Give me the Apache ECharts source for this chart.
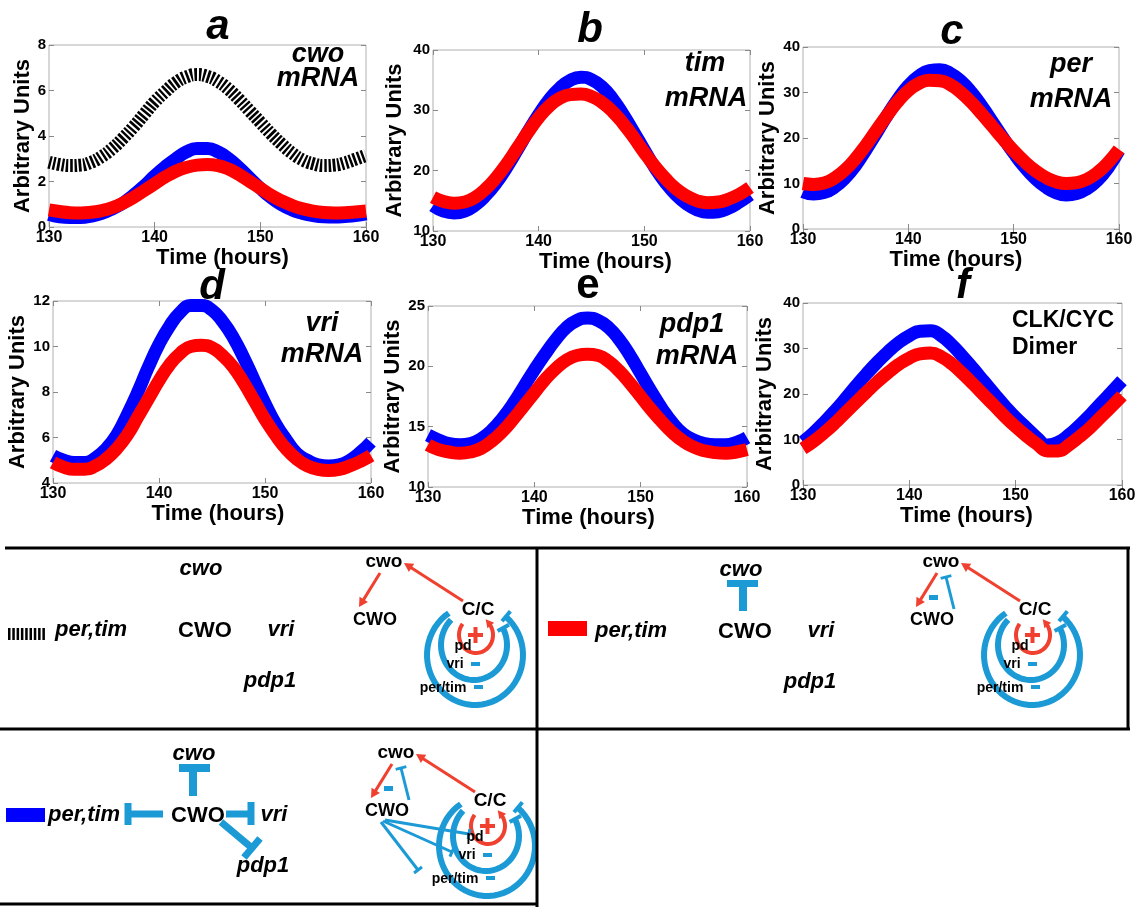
<!DOCTYPE html>
<html>
<head>
<meta charset="utf-8">
<script src="https://cdn.jsdelivr.net/npm/echarts@6/dist/echarts.min.js"></script>
<style>
  html, body { margin: 0; padding: 0; background: #fff; }
  #chart { width: 1144px; height: 907px; }
</style>
</head>
<body>
<div id="chart"></div>
<script>
// time axis (hours)
const hours = [130, 131, 132, 133, 134, 135, 136, 137, 138, 139, 140, 141, 142, 143, 144, 145,
  146, 147, 148, 149, 150, 151, 152, 153, 154, 155, 156, 157, 158, 159, 160]

// a: cwo mRNA
const cwoDashed = [2.85, 2.75, 2.7, 2.72, 2.85, 3.1, 3.45, 3.9, 4.4, 4.95, 5.5, 5.95, 6.35, 6.6, 6.7, 6.62,
  6.4, 6.05, 5.6, 5.1, 4.6, 4.1, 3.65, 3.25, 2.95, 2.78, 2.7, 2.72, 2.82, 2.98, 3.15]
const cwoBlue = [0.55, 0.45, 0.42, 0.42, 0.48, 0.6, 0.8, 1.05, 1.4, 1.8, 2.25, 2.65, 3.0, 3.3, 3.45, 3.45,
  3.3, 3.0, 2.6, 2.15, 1.7, 1.3, 0.98, 0.75, 0.6, 0.5, 0.45, 0.44, 0.46, 0.5, 0.58]
const cwoRed = [0.75, 0.68, 0.63, 0.62, 0.65, 0.72, 0.85, 1.05, 1.3, 1.6, 1.9, 2.2, 2.45, 2.62, 2.72, 2.75,
  2.7, 2.55, 2.3, 2.0, 1.7, 1.4, 1.15, 0.95, 0.8, 0.7, 0.64, 0.62, 0.63, 0.66, 0.7]

// b: tim mRNA
const timBlue = [14.2, 13.3, 13.0, 13.3, 14.3, 15.9, 18.0, 20.6, 23.5, 26.5, 29.3, 31.8, 33.7, 35.0, 35.5, 35.1,
  33.9, 31.9, 29.3, 26.4, 23.4, 20.5, 18.0, 16.0, 14.5, 13.5, 13.1, 13.2, 13.8, 14.8, 16.0]
const timRed = [15.6, 14.9, 14.6, 14.8, 15.6, 17.0, 18.9, 21.2, 23.8, 26.4, 28.8, 30.7, 32.0, 32.6, 32.7, 32.3,
  31.3, 29.8, 27.8, 25.5, 23.0, 20.7, 18.7, 17.0, 15.8, 15.0, 14.7, 14.8, 15.3, 16.1, 17.2]

// c: per mRNA
const perBlue = [8.2, 7.7, 8.0, 9.2, 11.2, 14.0, 17.5, 21.2, 25.0, 28.5, 31.5, 33.6, 34.8, 35.0, 34.2, 32.5,
  30.0, 26.9, 23.5, 20.0, 16.7, 13.7, 11.2, 9.3, 8.0, 7.5, 7.8, 8.9, 10.8, 13.6, 17.3]
const perRed = [10.0, 9.8, 10.1, 11.2, 13.0, 15.5, 18.5, 21.8, 25.0, 28.0, 30.4, 32.0, 32.7, 32.6, 31.7, 30.0,
  27.8, 25.2, 22.5, 19.8, 17.2, 14.9, 12.9, 11.4, 10.4, 10.0, 10.2, 11.0, 12.5, 14.7, 17.5]

// d: vri mRNA
const vriBlue = [5.2, 5.0, 4.9, 4.9, 5.1, 5.5, 6.1, 7.0, 8.0, 9.1, 10.1, 10.9, 11.5, 11.8, 11.8, 11.6,
  11.1, 10.4, 9.5, 8.5, 7.5, 6.6, 5.9, 5.3, 5.0, 4.8, 4.75, 4.8, 5.0, 5.35, 5.8]
const vriRed = [4.9, 4.7, 4.6, 4.6, 4.75, 5.05, 5.5, 6.1, 6.9, 7.7, 8.5, 9.2, 9.7, 10.0, 10.05, 9.95,
  9.6, 9.1, 8.4, 7.6, 6.8, 6.1, 5.5, 5.05, 4.75, 4.6, 4.55, 4.6, 4.75, 4.95, 5.2]

// e: pdp1 mRNA
const pdp1Blue = [14.3, 13.9, 13.6, 13.5, 13.6, 14.0, 14.7, 15.7, 16.9, 18.3, 19.7, 21.0, 22.2, 23.2, 23.8, 24.0,
  23.8, 23.2, 22.2, 20.9, 19.4, 17.9, 16.5, 15.3, 14.4, 13.9, 13.6, 13.5, 13.5, 13.7, 14.1]
const pdp1Red = [13.5, 13.1, 12.9, 12.8, 12.9, 13.2, 13.8, 14.6, 15.6, 16.7, 17.8, 18.9, 19.8, 20.5, 20.9, 21.0,
  20.9, 20.4, 19.6, 18.6, 17.5, 16.4, 15.4, 14.5, 13.8, 13.3, 13.0, 12.85, 12.8, 12.9, 13.1]

// f: CLK/CYC dimer
const clkBlue = [9.5, 11.5, 13.8, 16.3, 19.0, 21.8, 24.5, 27.0, 29.3, 31.3, 32.8, 33.8, 33.9, 32.8, 30.8, 28.3,
  25.6, 22.8, 20.0, 17.3, 14.8, 12.6, 10.4, 8.8, 9.4, 11.0, 13.1, 15.4, 17.9, 20.4, 22.9]
const clkRed = [8.0, 9.6, 11.5, 13.6, 15.9, 18.2, 20.5, 22.7, 24.7, 26.5, 27.9, 28.8, 29.0, 28.2, 26.6, 24.5,
  22.2, 19.8, 17.4, 15.0, 12.8, 10.8, 9.0, 7.5, 7.5, 8.8, 10.6, 12.6, 14.9, 17.2, 19.6]

const FONT = 'Liberation Sans'
const BLUE = '#0000ff'
const RED = '#ff0000'
const CYAN = '#1b9ad6'
const ORANGE = '#f0402f'

// panel layout: plot box, y scale, title, in-plot label
const panels = [
  { box: [49, 45, 317, 182], y: [0, 8, 2], title: ['a', 218, 27, true], yGap: 15, xShift: 15,
    lines: [[cwoDashed, '#000', true], [cwoBlue, BLUE], [cwoRed, RED]],
    tag: [['cwo', 318, 55], ['mRNA', 318, 79]] },
  { box: [433, 50, 317, 181], y: [10, 40, 10], title: ['b', 590, 30, true], yGap: 27, xShift: 14,
    lines: [[timBlue, BLUE], [timRed, RED]],
    tag: [['tim', 705, 64], ['mRNA', 706, 99]] },
  { box: [803, 47, 316, 182], y: [0, 40, 10], title: ['c', 952, 32, true], yGap: 22, xShift: -5,
    lines: [[perBlue, BLUE], [perRed, RED]],
    tag: [['per', 1071, 65], ['mRNA', 1071, 100]] },
  { box: [53, 301, 318, 182], y: [4, 12, 2], title: ['d', 212, 287, true], yGap: 19, xShift: 6,
    lines: [[vriBlue, BLUE], [vriRed, RED]],
    tag: [['vri', 322, 324], ['mRNA', 322, 355]] },
  { box: [428, 306, 319, 181], y: [10, 25, 5], title: ['e', 588, 286, false], yGap: 20, xShift: 1,
    lines: [[pdp1Blue, BLUE], [pdp1Red, RED]],
    tag: [['pdp1', 692, 325], ['mRNA', 697, 357]] },
  { box: [803, 303, 319, 182], y: [0, 40, 10], title: ['f', 963, 286, true], yGap: 27, xShift: 4,
    lines: [[clkBlue, BLUE], [clkRed, RED]],
    tag: [] }
]

const label = (x, y, text, size, o = {}) => ({
  type: 'text', x, y, z: 20,
  style: {
    text, fontFamily: FONT, fontSize: size, fontWeight: 'bold',
    fontStyle: o.italic ? 'italic' : 'normal', fill: o.color || '#000',
    align: o.align || 'center', verticalAlign: 'middle'
  }
})
const seg = (x1, y1, x2, y2, color, w, dash) => ({
  type: 'line', z: 10, shape: { x1, y1, x2, y2 },
  style: { stroke: color, lineWidth: w, lineDash: dash || null }
})
const block = (x, y, width, height, color) => ({
  type: 'rect', z: 10, shape: { x, y, width, height }, style: { fill: color }
})
// line ending in a perpendicular bar (repression)
const inhibit = (x1, y1, x2, y2, color, w, bar, bw) => {
  const L = Math.hypot(x2 - x1, y2 - y1)
  const nx = -(y2 - y1) / L, ny = (x2 - x1) / L
  return [seg(x1, y1, x2, y2, color, w),
    seg(x2 - nx * bar / 2, y2 - ny * bar / 2, x2 + nx * bar / 2, y2 + ny * bar / 2, color, bw || w)]
}
const head = (x, y, ux, uy, size, color) => ({
  type: 'polygon', z: 11,
  shape: { points: [[x, y], [x - ux * size - uy * size * 0.55, y - uy * size + ux * size * 0.55],
    [x - ux * size + uy * size * 0.55, y - uy * size - ux * size * 0.55]] },
  style: { fill: color }
})
const arrow = (x1, y1, x2, y2, color, w, size) => {
  const L = Math.hypot(x2 - x1, y2 - y1)
  const ux = (x2 - x1) / L, uy = (y2 - y1) / L
  return [seg(x1, y1, x2 - ux * size * 0.8, y2 - uy * size * 0.8, color, w), head(x2, y2, ux, uy, size, color)]
}
// open loop around the C/C node, from a0 (right end) round the bottom to a1
const loop = (cx, cy, rx, ry, a0, a1, color, w) => {
  const pts = []
  for (let i = 0; i <= 48; i++) {
    const t = (a0 + (a1 - a0) * i / 48) * Math.PI / 180
    pts.push([cx + rx * Math.cos(t), cy + ry * Math.sin(t)])
  }
  return { type: 'polyline', z: 9, shape: { points: pts }, style: { stroke: color, lineWidth: w, fill: null } }
}
const loopEnd = (cx, cy, rx, ry, a) => {
  const t = a * Math.PI / 180
  return [cx + rx * Math.cos(t), cy + ry * Math.sin(t), t]
}

// schematic of the feedback loops, mode 0/1/2 adds the CWO repression arms
function circuit(ox, oy, mode) {
  const X = x => x + ox, Y = y => y + oy
  const g = []
  g.push(...arrow(X(463), Y(601), X(404), Y(563), ORANGE, 3, 9))
  g.push(...arrow(X(380), Y(573), X(359), Y(607), ORANGE, 3, 9))
  // outer and middle loops end in a bar
  const rings = [[475, 655, 48, 50, -50, 237], [474, 645, 33, 35, -29, 226]]
  rings.forEach(([cx, cy, rx, ry, a0, a1]) => {
    g.push(loop(X(cx), Y(cy), rx, ry, a0, a1, CYAN, 6))
    const [ex, ey, t] = loopEnd(X(cx), Y(cy), rx, ry, a0)
    g.push(seg(ex - Math.cos(t) * 6, ey - Math.sin(t) * 6, ex + Math.cos(t) * 7, ey + Math.sin(t) * 7, CYAN, 4))
  })
  // inner positive loop
  g.push(loop(X(476), Y(635), 17, 18, -41, 218, ORANGE, 4))
  const [rx0, ry0, rt] = loopEnd(X(476), Y(635), 17, 18, -41)
  const tx = 17 * Math.sin(rt), ty = -18 * Math.cos(rt), tl = Math.hypot(tx, ty)
  g.push(head(rx0 + tx / tl * 5, ry0 + ty / tl * 5, tx / tl, ty / tl, 8, ORANGE))
  g.push(seg(X(468), Y(635), X(483), Y(635), ORANGE, 4))
  g.push(seg(X(475.5), Y(627), X(475.5), Y(643), ORANGE, 4))
  g.push(block(X(471), Y(662), 9, 4, CYAN))
  g.push(block(X(474), Y(685), 9, 4, CYAN))
  if (mode >= 1) {
    g.push(...inhibit(X(397), Y(609), X(389), Y(577), CYAN, 3, 11))
    g.push(block(X(372), Y(595), 9, 5, CYAN))
  }
  if (mode >= 2) {
    g.push(...inhibit(X(373), Y(629), X(457), Y(643), CYAN, 3, 10))
    g.push(...inhibit(X(371), Y(630), X(440), Y(661), CYAN, 3, 10))
    g.push(...inhibit(X(369), Y(631), X(406), Y(679), CYAN, 3, 10))
  }
  g.push(label(X(384), Y(562), 'cwo', 19))
  g.push(label(X(375), Y(620), 'CWO', 18))
  g.push(label(X(478), Y(610), 'C/C', 19))
  g.push(label(X(463), Y(646), 'pd', 14))
  g.push(label(X(455), Y(664), 'vri', 14))
  g.push(label(X(443), Y(688), 'per/tim', 14))
  return g
}

// gene names of the left-hand network
function network(ox, oy) {
  return [
    label(55 + ox, 630 + oy, 'per,tim', 22, { italic: true, align: 'left' }),
    label(201 + ox, 569 + oy, 'cwo', 22, { italic: true }),
    label(205 + ox, 631 + oy, 'CWO', 22),
    label(281 + ox, 630 + oy, 'vri', 22, { italic: true }),
    label(270 + ox, 681 + oy, 'pdp1', 22, { italic: true })
  ]
}

const graphics = []
// frame lines
graphics.push(seg(5, 548, 1130, 548, '#000', 3))
graphics.push(seg(537, 548, 537, 907, '#000', 3))
graphics.push(seg(0, 729, 1130, 729, '#000', 3))
graphics.push(seg(1128, 548, 1128, 729, '#000', 3))
graphics.push(seg(0, 904, 537, 904, '#000', 3))

// box 1: no repression by CWO
graphics.push(seg(8, 634, 45, 634, '#000', 12, [2.5, 1.8]))
graphics.push(...network(0, 0))
graphics.push(...circuit(0, 0, 0))

// box 2: CWO represses cwo
graphics.push(block(548, 621, 39, 15, RED))
graphics.push(...network(540, 1))
graphics.push(block(727, 580, 31, 7, CYAN), block(739, 587, 8, 24, CYAN))
graphics.push(...circuit(557, 0, 1))

// box 3: CWO represses everything
graphics.push(block(6, 808, 39, 14, BLUE))
graphics.push(...network(-7, 185))
graphics.push(block(179, 764, 31, 8, CYAN), block(189, 772, 8, 24, CYAN))
graphics.push(seg(163, 814, 128, 814, CYAN, 7), seg(128, 803, 128, 825, CYAN, 7))
graphics.push(seg(226, 814, 251, 814, CYAN, 7), seg(251, 802, 251, 825, CYAN, 7))
graphics.push(...inhibit(221, 822, 252, 848, CYAN, 7, 25))
graphics.push(...circuit(12, 191, 2))

const grids = [], xAxes = [], yAxes = [], series = []
const tick = { inside: true, length: 5, lineStyle: { color: '#8a8a8a' } }
panels.forEach((p, i) => {
  const [left, top, width, height] = p.box
  grids.push({ left, top, width, height, show: true, borderColor: '#b0b0b0', borderWidth: 1 })
  const shift = p.xShift >= 0 ? [0, 0, 0, 2 * p.xShift] : [0, -2 * p.xShift, 0, 0]
  xAxes.push({
    gridIndex: i, type: 'value', min: 130, max: 160, interval: 10, position: 'bottom',
    axisLine: { show: false }, axisTick: tick, splitLine: { show: false },
    axisLabel: { fontFamily: FONT, fontSize: 16, fontWeight: 'bold', color: '#000', margin: 3 },
    name: 'Time (hours)', nameLocation: 'middle', nameGap: 11,
    nameTextStyle: { fontFamily: FONT, fontSize: 22, fontWeight: 'bold', color: '#000', padding: shift }
  })
  xAxes.push({
    gridIndex: i, type: 'value', min: 130, max: 160, interval: 10, position: 'top',
    axisLine: { show: false }, axisTick: tick, splitLine: { show: false }, axisLabel: { show: false }
  })
  yAxes.push({
    gridIndex: i, type: 'value', min: p.y[0], max: p.y[1], interval: p.y[2], position: 'left',
    axisLine: { show: false }, axisTick: tick, splitLine: { show: false },
    axisLabel: { fontFamily: FONT, fontSize: 15, fontWeight: 'bold', color: '#000', margin: 3 },
    name: 'Arbitrary Units', nameLocation: 'middle', nameGap: p.yGap,
    nameTextStyle: { fontFamily: FONT, fontSize: 22, fontWeight: 'bold', color: '#000' }
  })
  yAxes.push({
    gridIndex: i, type: 'value', min: p.y[0], max: p.y[1], interval: p.y[2], position: 'right',
    axisLine: { show: false }, axisTick: tick, splitLine: { show: false }, axisLabel: { show: false }
  })
  p.lines.forEach(([vals, color, dashed]) => {
    series.push({
      type: 'line', xAxisIndex: 2 * i, yAxisIndex: 2 * i, smooth: true, showSymbol: false,
      data: hours.map((h, k) => [h, vals[k]]),
      lineStyle: { color, width: 13, type: dashed ? [2.5, 1.8] : 'solid', cap: 'butt' },
      emphasis: { disabled: true }
    })
  })
  const [t, tx, ty, italic] = p.title
  graphics.push(label(tx, ty, t, 42, { italic }))
  p.tag.forEach(([s, x, y]) => graphics.push(label(x, y, s, 27, { italic: true })))
})
graphics.push(label(1012, 321, 'CLK/CYC', 23, { align: 'left' }))
graphics.push(label(1012, 348, 'Dimer', 23, { align: 'left' }))

const chart = echarts.init(document.getElementById('chart'))
chart.setOption({
  animation: false,
  backgroundColor: '#fff',
  grid: grids,
  xAxis: xAxes,
  yAxis: yAxes,
  series,
  graphic: { elements: graphics }
})
</script>
</body>
</html>
